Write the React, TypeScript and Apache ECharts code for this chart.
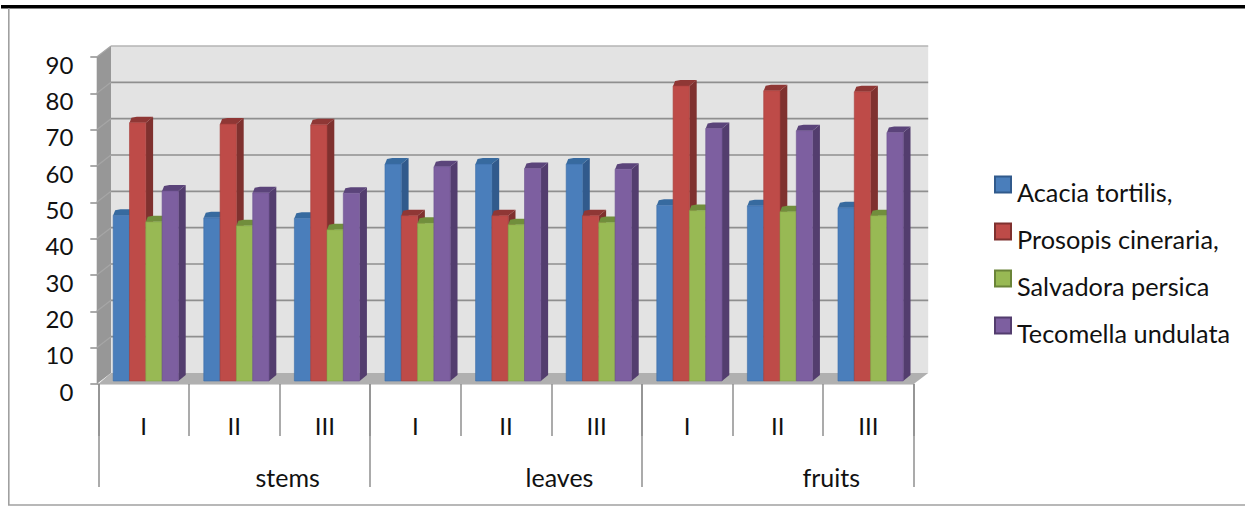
import React, { useEffect, useRef } from "react";
import * as echarts from "echarts";

const replicates = ["I", "II", "III", "I", "II", "III", "I", "II", "III"];
const organs = ["stems", "leaves", "fruits"];
const acacia = [45.6, 44.9, 44.8, 59.7, 59.7, 59.7, 48.4, 48.2, 47.7];
const prosopis = [71.1, 70.7, 70.5, 45.5, 45.5, 45.5, 81.2, 79.9, 79.6];
const salvadora = [43.8, 42.7, 41.6, 43.4, 43.0, 43.6, 46.9, 46.6, 45.5];
const tecomella = [52.3, 51.8, 51.7, 59.0, 58.5, 58.3, 69.5, 68.9, 68.4];
const yTicks = [10, 20, 30, 40, 50, 60, 70, 80, 90];

const FONT = "Lato";
const WALL_DX = 14.5;
const WALL_LEFT_DX = 12.7;
const SIDE_LEFT = -1.6;
const WALL_DY = -11;
const BAR_DX = 7.3;
const BAR_DY = -6;
const BAR_FRAC = 0.18;
const FRONT_X = 2.2;
const FRONT_Y = -3;
const LINE = "#8f8f8f";

const speciesList = [
  { name: "Acacia tortilis,", values: acacia, front: "#4a7ebb", side: "#315a8c", top: "#376a9f", edge: "#3a6da8" },
  { name: "Prosopis cineraria,", values: prosopis, front: "#be4b48", side: "#7f312f", top: "#8f3735", edge: "#a8403d" },
  { name: "Salvadora persica", values: salvadora, front: "#98b954", side: "#6a8438", top: "#718e3c", edge: "#85a548" },
  { name: "Tecomella undulata", values: tecomella, front: "#7d5fa0", side: "#533d6e", top: "#5b447a", edge: "#6d5290" },
];

function renderFrame(params: any, api: any) {
  const cs = params.coordSys;
  const x0 = cs.x;
  const x1 = cs.x + cs.width;
  const yTop = cs.y;
  const yBase = cs.y + cs.height;
  const sx = x0 + SIDE_LEFT;
  const bx0 = x0 + WALL_LEFT_DX;
  const bx1 = x1 + WALL_DX;
  const children: any[] = [
    { type: "polygon", shape: { points: [[bx0, yTop + WALL_DY], [bx1, yTop + WALL_DY], [bx1, yBase + WALL_DY], [bx0, yBase + WALL_DY]] }, style: { fill: "#e3e3e3" } },
    { type: "polygon", shape: { points: [[sx, yTop], [bx0, yTop + WALL_DY], [bx0, yBase + WALL_DY], [sx, yBase]] }, style: { fill: "#979797" } },
    { type: "polygon", shape: { points: [[x0, yBase], [bx0, yBase + WALL_DY], [bx1, yBase + WALL_DY], [x1, yBase]] }, style: { fill: "#b0b0b0" } },
  ];
  yTicks.forEach((t) => {
    const y = api.coord([0, t])[1];
    children.push({ type: "line", shape: { x1: bx0, y1: y + WALL_DY, x2: bx1, y2: y + WALL_DY }, style: { stroke: t === 90 ? "#b5b5b5" : LINE, lineWidth: 1.6 } });
    children.push({ type: "line", shape: { x1: sx, y1: y, x2: bx0, y2: y + WALL_DY }, style: { stroke: "#a6a6a6", lineWidth: 1.2 } });
  });
  return { type: "group", children };
}

function makeBarRenderer(seriesPos: number, s: (typeof speciesList)[number]) {
  return (_params: any, api: any) => {
    const p = api.coord([api.value(0), api.value(1)]);
    const base = api.coord([api.value(0), 0]);
    const bw = api.size([1, 0])[0] * BAR_FRAC;
    const l = p[0] - 2 * bw + seriesPos * bw + FRONT_X;
    const r = l + bw;
    const t = p[1] + FRONT_Y;
    const b = base[1] + FRONT_Y;
    return {
      type: "group",
      children: [
        { type: "polygon", shape: { points: [[r, t], [r + BAR_DX, t + BAR_DY], [r + BAR_DX, b + BAR_DY], [r, b]] }, style: { fill: s.side } },
        { type: "polygon", shape: { points: [[l, t], [l + 2, t + BAR_DY + 1], [l + BAR_DX, t + BAR_DY], [r + BAR_DX, t + BAR_DY], [r, t]] }, style: { fill: s.top } },
        { type: "rect", shape: { x: l, y: t, width: bw, height: b - t }, style: { fill: s.front, stroke: s.edge, lineWidth: 0.6 } },
      ],
    };
  };
}

export default function App() {
  const ref = useRef<HTMLDivElement>(null);
  useEffect(() => {
    document.body.style.margin = "0";
    const chart = echarts.init(ref.current!, null, { renderer: "svg" });
    chart.setOption({
      animation: false,
      backgroundColor: "#ffffff",
      textStyle: { fontFamily: FONT },
      grid: { left: 98.3, top: 57, width: 815.4, height: 327, containLabel: false },
      legend: {
        orient: "vertical",
        left: 994,
        top: 165,
        padding: 0,
        itemWidth: 16,
        itemHeight: 16,
        itemGap: 8,
        selectedMode: false,
        icon: "rect",
        formatter: (n: string) => `{t|${n}}`,
        textStyle: {
          fontFamily: FONT,
          fontSize: 25,
          color: "#111",
          rich: { t: { fontFamily: FONT, fontSize: 25.3, color: "#111", lineHeight: 30, padding: [14, 0, 0, 1] } },
        },
        data: speciesList.map((s) => s.name),
      },
      xAxis: [
        {
          type: "category",
          data: replicates,
          position: "bottom",
          axisLine: { show: true, lineStyle: { color: "#d4d4d4", width: 2 } },
          axisTick: { show: true, length: 52, lineStyle: { color: LINE, width: 1.5 } },
          axisLabel: { interval: 0, margin: 29, fontFamily: FONT, fontSize: 24, color: "#111" },
        },
        {
          type: "category",
          data: organs,
          position: "bottom",
          axisLine: { show: false },
          axisTick: { show: true, length: 103, lineStyle: { color: LINE, width: 1.5 } },
          axisLabel: { interval: 0, margin: 80, fontFamily: FONT, fontSize: 25, color: "#111", padding: [0, 0, 0, 107] },
        },
      ],
      yAxis: {
        type: "value",
        min: 0,
        max: 90,
        interval: 10,
        axisLine: { show: false },
        axisTick: { show: true, length: 8, lineStyle: { color: LINE, width: 1.5 } },
        splitLine: { show: false },
        axisLabel: { margin: 25, fontFamily: FONT, fontSize: 24, color: "#111", verticalAlign: "top", lineHeight: 14 },
      },
      series: [
        { type: "custom", name: "frame", z: 1, silent: true, xAxisIndex: 0, data: [[0, 0]], encode: { x: 0, y: 1 }, renderItem: renderFrame },
        ...speciesList.map((s, i) => ({
          type: "custom",
          name: s.name,
          z: 3 + i,
          silent: true,
          xAxisIndex: 0,
          itemStyle: { color: s.front, borderColor: s.side, borderWidth: 1 },
          data: s.values.map((v, k) => [k, v]),
          encode: { x: 0, y: 1 },
          renderItem: makeBarRenderer(i, s),
        })),
      ],
      graphic: [
        { type: "rect", shape: { x: 1, y: 5, width: 1244, height: 3.6 }, style: { fill: "#000" } },
        { type: "rect", shape: { x: 8, y: 8, width: 1.6, height: 497 }, style: { fill: "#a0a0a0" } },
        { type: "rect", shape: { x: 8, y: 504.2, width: 1237, height: 1.5 }, style: { fill: "#a0a0a0" } },
      ],
    });
    return () => chart.dispose();
  }, []);
  return <div ref={ref} style={{ position: "fixed", left: 0, top: 0, width: 1245, height: 506 }} />;
}
